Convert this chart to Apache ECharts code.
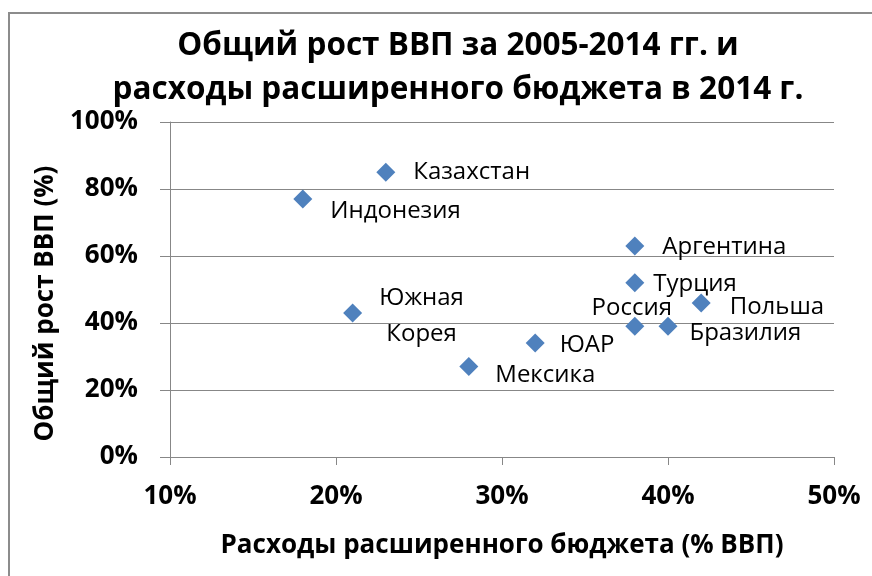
<!DOCTYPE html>
<html>
<head>
<meta charset="utf-8">
<script src="https://cdn.jsdelivr.net/npm/echarts@6/dist/echarts.min.js"></script>
<style>
  html, body { margin: 0; padding: 0; background: #fff; }
  #chart { width: 872px; height: 576px; }
</style>
</head>
<body>
<div id="chart"></div>
<script>
// data
const countries = ['Индонезия', 'Казахстан', 'Южная\nКорея', 'Мексика', 'ЮАР',
                   'Аргентина', 'Турция', 'Россия', 'Бразилия', 'Польша'];
const budget = [18, 23, 21, 28, 32, 38, 38, 38, 40, 42];   // % ВВП
const growth = [77, 85, 43, 27, 34, 63, 52, 39, 39, 46];   // %

const xTicks = [10, 20, 30, 40, 50];
const yTicks = [0, 20, 40, 60, 80, 100];

// where each label sits next to its marker
const labelPlace = {
  'Индонезия': { position: 'right', offset: [18, 12] },
  'Казахстан': { position: 'right', offset: [18, 0] },
  'Южная\nКорея': { position: 'inside', offset: [69, 3], align: 'center', lineHeight: 36 },
  'Мексика': { position: 'right', offset: [17, 9] },
  'ЮАР': { position: 'right', offset: [15, 2] },
  'Аргентина': { position: 'right', offset: [18, 1] },
  'Турция': { position: 'right', offset: [9, 1] },
  'Россия': { position: 'inside', offset: [-3, -18] },
  'Бразилия': { position: 'right', offset: [12, 7] },
  'Польша': { position: 'right', offset: [19, 4] }
};

const FONT = 'Open Sans';
const GRID = '#878787';

const chart = echarts.init(document.getElementById('chart'));

const points = countries.map((c, i) => ({
  name: c,
  value: [budget[i], growth[i]],
  label: Object.assign({ show: true, formatter: '{b}', distance: 0 }, labelPlace[c])
}));

chart.setOption({
  animation: false,
  textStyle: { fontFamily: FONT },
  graphic: [{
    type: 'rect',
    shape: { x: 9, y: 13, width: 900, height: 600 },
    style: { fill: 'none', stroke: '#8c8c8c', lineWidth: 2 },
    silent: true
  }],
  title: {
    text: 'Общий рост ВВП за 2005-2014 гг. и\nрасходы расширенного бюджета в 2014 г.',
    left: 453,
    textAlign: 'center',
    top: 19,
    textStyle: { fontFamily: FONT, fontSize: 31.5, fontWeight: 'bold', color: '#000', lineHeight: 44 }
  },
  grid: { left: 170, right: 38, top: 122, bottom: 119, containLabel: false },
  xAxis: {
    type: 'value',
    min: xTicks[0],
    max: xTicks[xTicks.length - 1],
    interval: 10,
    name: 'Расходы расширенного бюджета (% ВВП)',
    nameLocation: 'middle',
    nameGap: 76,
    nameTextStyle: { fontFamily: FONT, fontSize: 26, fontWeight: 'bold', color: '#000', verticalAlign: 'top' },
    axisLine: { show: true, lineStyle: { color: GRID, width: 1 } },
    axisTick: { show: true, length: 8, lineStyle: { color: GRID } },
    splitLine: { show: false },
    axisLabel: { formatter: '{value}%', margin: 27, fontFamily: FONT, fontSize: 26, fontWeight: 'bold', color: '#000' }
  },
  yAxis: {
    type: 'value',
    min: yTicks[0],
    max: yTicks[yTicks.length - 1],
    interval: 20,
    name: 'Общий рост ВВП (%)',
    nameLocation: 'middle',
    nameGap: 103,
    nameTextStyle: { fontFamily: FONT, fontSize: 26, fontWeight: 'bold', color: '#000', padding: [0, 28, 0, 0] },
    axisLine: { show: true, lineStyle: { color: GRID, width: 1 } },
    axisTick: { show: true, length: 10, lineStyle: { color: GRID } },
    splitLine: { show: true, lineStyle: { color: GRID, width: 1 } },
    axisLabel: { formatter: '{value}%', margin: 32, fontFamily: FONT, fontSize: 26, fontWeight: 'bold', color: '#000' }
  },
  series: [{
    type: 'scatter',
    symbol: 'diamond',
    symbolSize: 19,
    itemStyle: { color: '#4F81BD', opacity: 1 },
    label: { fontFamily: FONT, fontSize: 24, color: '#000' },
    data: points
  }]
});
</script>
</body>
</html>
